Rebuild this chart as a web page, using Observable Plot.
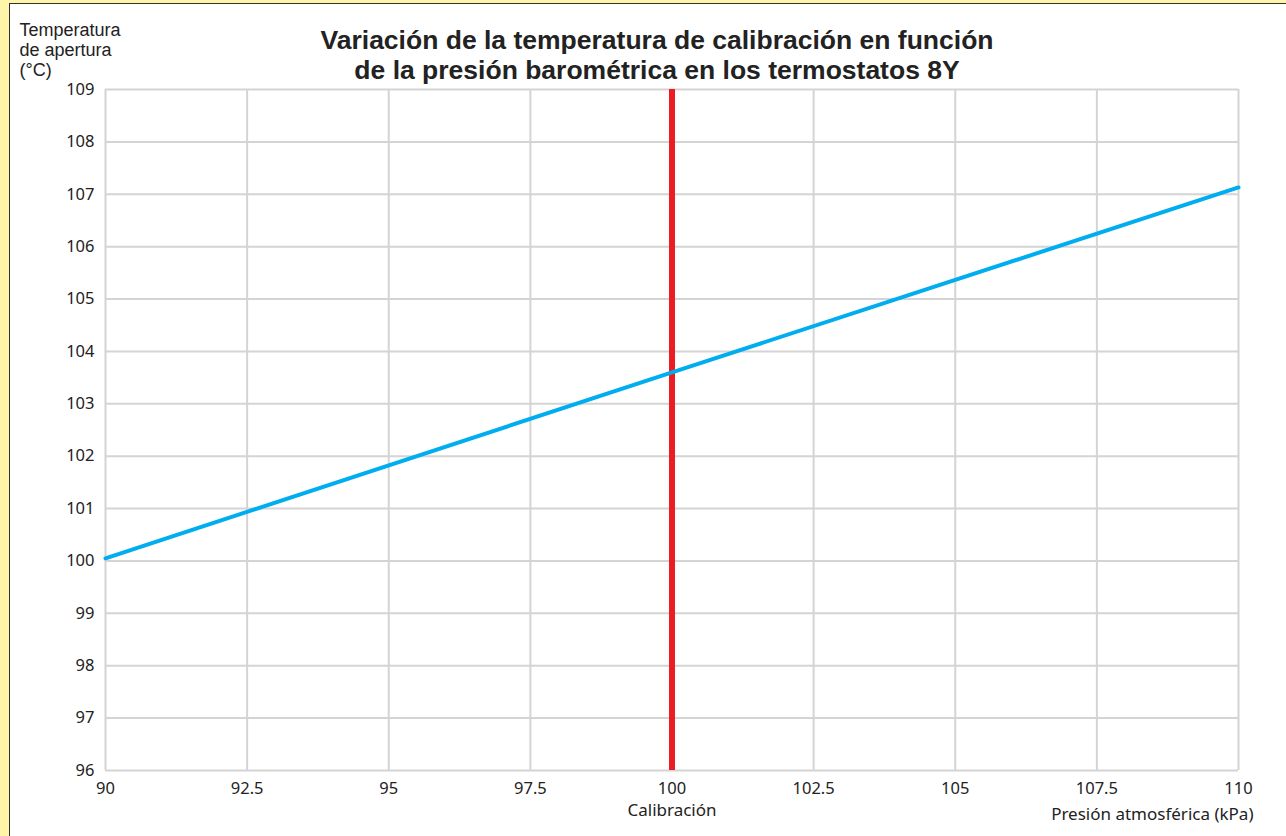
<!DOCTYPE html>
<html>
<head>
<meta charset="utf-8">
<script src="https://cdn.jsdelivr.net/npm/d3@7"></script>
<script src="https://cdn.jsdelivr.net/npm/@observablehq/plot@0.6"></script>
<style>
  html, body { margin: 0; padding: 0; }
  body { background: #fff5a8; width: 1286px; height: 836px; overflow: hidden; position: relative; font-family: "Noto Sans", sans-serif; }
  #panel { position: absolute; left: 9px; top: 3px; width: 1277px; height: 833px; background: #fff; border-left: 1px solid #333; border-top: 1px solid #333; }
  #panel svg { display: block; }
</style>
</head>
<body>
<div id="panel"></div>
<script>
const pressure = [90, 100, 110];
const openingTemp = [100.05, 103.6, 107.13];
const calibrationPressure = 100;
const xTicks = [90, 92.5, 95, 97.5, 100, 102.5, 105, 107.5, 110];
const yTicks = [96, 97, 98, 99, 100, 101, 102, 103, 104, 105, 106, 107, 108, 109];
const titleText = "Variación de la temperatura de calibración en función\nde la presión barométrica en los termostatos 8Y";
const yLabelText = "Temperatura\nde apertura\n(°C)";
const xLabelText = "Presión atmosférica (kPa)";
const calibLabelText = "Calibración";

const data = pressure.map((p, i) => ({p, t: openingTemp[i]}));

const chart = Plot.plot({
  width: 1276,
  height: 832,
  marginLeft: 95,
  marginRight: 48,
  marginTop: 85,
  marginBottom: 66,
  style: {fontFamily: "'Noto Sans', sans-serif", fontSize: "16px", color: "#222", background: "#fff"},
  x: {domain: [90, 110], ticks: xTicks, tickFormat: d => String(d)},
  y: {domain: [96, 109], ticks: yTicks, tickFormat: d => String(d)},
  marks: [
    Plot.gridX(xTicks, {stroke: "#d4d4d4", strokeOpacity: 1, strokeWidth: 2}),
    Plot.gridY(yTicks, {stroke: "#d4d4d4", strokeOpacity: 1, strokeWidth: 2}),
    Plot.axisX(xTicks, {tickSize: 0, tickPadding: 12, label: null, fontSize: 16.5, fill: "#222", tickFormat: d => String(d)}),
    Plot.axisY(yTicks, {tickSize: 0, tickPadding: 11, label: null, fontSize: 16.5, fill: "#222", tickFormat: d => String(d)}),
    Plot.ruleX([calibrationPressure], {stroke: "#ec1c24", strokeWidth: 6}),
    Plot.line(data, {x: "p", y: "t", stroke: "#00aeef", strokeWidth: 4}),
    Plot.text([calibLabelText], {x: calibrationPressure, frameAnchor: "bottom", dy: 45, text: d => d, fontSize: 17, fill: "#222"}),
    Plot.text([xLabelText], {frameAnchor: "bottom-right", dx: 15, dy: 49, textAnchor: "end", text: d => d, fontSize: 17, fill: "#222"}),
    Plot.text([yLabelText], {frameAnchor: "top-left", dx: -86, dy: -68, textAnchor: "start", lineAnchor: "top", lineHeight: 1.12, text: d => d, fontSize: 18, fontFamily: "'Liberation Sans', sans-serif", fill: "#222"}),
    Plot.text([titleText], {frameAnchor: "top", dx: -15, dy: -62, lineAnchor: "top", lineHeight: 30 / 26.5, text: d => d, fontSize: 26.5, fontWeight: 700, fontFamily: "'Liberation Sans', sans-serif", fill: "#222"})
  ]
});
document.getElementById("panel").appendChild(chart);
</script>
</body>
</html>
